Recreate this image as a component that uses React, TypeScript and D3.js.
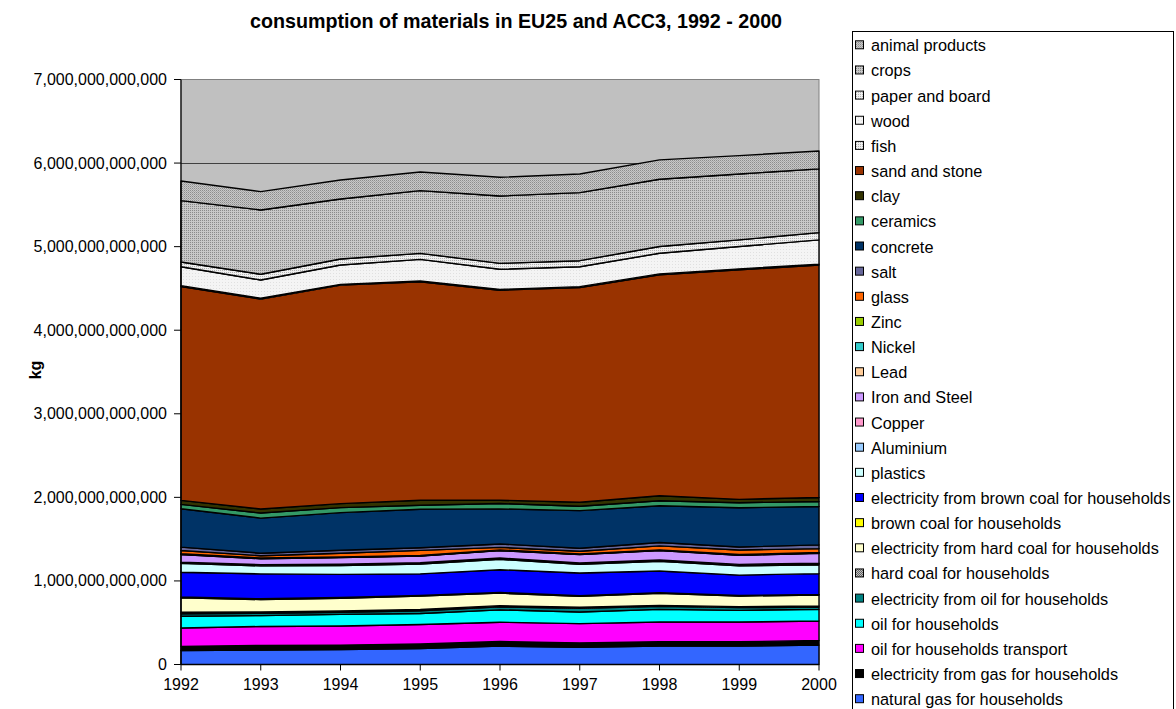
import React from "react";
import * as d3 from "d3";

// values in billions of kg (1e9 kg), years 1992..2000
const years = [1992, 1993, 1994, 1995, 1996, 1997, 1998, 1999, 2000];
const yTicks = [0, 1000, 2000, 3000, 4000, 5000, 6000, 7000];

const naturalGas = [167, 172, 180, 190, 220, 207, 220, 220, 232];
const elecGas = [50, 56, 52, 56, 56, 52, 52, 52, 56];
const oilTransport = [220, 227, 228, 232, 230, 230, 236, 236, 232];
const oilHouseholds = [140, 130, 140, 132, 148, 140, 152, 140, 140];
const elecOil = [30, 27, 24, 33, 35, 42, 35, 32, 28];
const hardCoal = [18, 17, 16, 15, 15, 14, 13, 12, 12];
const elecHardCoal = [172, 148, 152, 160, 150, 130, 144, 128, 132];
const brownCoal = [10, 9, 9, 8, 8, 7, 7, 6, 6];
const elecBrownCoal = [297, 298, 278, 259, 272, 273, 260, 244, 249];
const plastics = [106, 96, 105, 117, 124, 104, 115, 111, 107];
const aluminium = [9, 9, 10, 10, 10, 10, 11, 11, 11];
const copper = [5, 5, 5, 5, 6, 6, 6, 6, 6];
const ironSteel = [92, 72, 80, 80, 88, 100, 112, 108, 120];
const lead = [4, 4, 3, 3, 3, 3, 3, 3, 3];
const nickel = [2, 2, 2, 2, 2, 2, 2, 3, 3];
const zinc = [3, 3, 3, 4, 4, 4, 4, 4, 4];
const glass = [39, 27, 44, 59, 31, 31, 47, 54, 46];
const salt = [40, 30, 36, 32, 40, 36, 40, 36, 44];
const concrete = [460, 420, 450, 460, 420, 450, 440, 470, 460];
const ceramics = [52, 60, 60, 48, 64, 52, 60, 60, 60];
const clay = [48, 48, 48, 60, 40, 48, 60, 40, 48];
const sandStone = [2559, 2512, 2614, 2614, 2513, 2570, 2644, 2747, 2780];
const fish = [10, 10, 10, 10, 10, 10, 11, 11, 11];
const wood = [227, 219, 231, 259, 240, 239, 247, 267, 291];
const paperBoard = [56, 68, 72, 72, 71, 72, 80, 80, 87];
const crops = [734, 770, 718, 750, 806, 814, 806, 789, 762];
const animalProducts = [235, 219, 227, 223, 224, 223, 231, 219, 215];

// stacking order bottom -> top
const seriesNames = [
  "natural gas for households",
  "electricity from gas for households",
  "oil for households transport",
  "oil for households",
  "electricity from oil for households",
  "hard coal for households",
  "electricity from hard coal for households",
  "brown coal for households",
  "electricity from brown coal for households",
  "plastics",
  "Aluminium",
  "Copper",
  "Iron and Steel",
  "Lead",
  "Nickel",
  "Zinc",
  "glass",
  "salt",
  "concrete",
  "ceramics",
  "clay",
  "sand and stone",
  "fish",
  "wood",
  "paper and board",
  "crops",
  "animal products",
];
const seriesValues = [
  naturalGas, elecGas, oilTransport, oilHouseholds, elecOil, hardCoal,
  elecHardCoal, brownCoal, elecBrownCoal, plastics, aluminium, copper,
  ironSteel, lead, nickel, zinc, glass, salt, concrete, ceramics, clay,
  sandStone, fish, wood, paperBoard, crops, animalProducts,
];

const fills: Record<string, string> = {
  "natural gas for households": "#3366FF",
  "electricity from gas for households": "#000000",
  "oil for households transport": "#FF00FF",
  "oil for households": "#00FFFF",
  "electricity from oil for households": "#008080",
  "hard coal for households": "url(#pat-hardcoal)",
  "electricity from hard coal for households": "#FFFFCC",
  "brown coal for households": "#FFFF00",
  "electricity from brown coal for households": "#0000FF",
  plastics: "#CCFFFF",
  Aluminium: "#99CCFF",
  Copper: "#FF99CC",
  "Iron and Steel": "#CC99FF",
  Lead: "#FFCC99",
  Nickel: "#33CCCC",
  Zinc: "#99CC00",
  glass: "#FF6600",
  salt: "#666699",
  concrete: "#003366",
  ceramics: "#339966",
  clay: "#333300",
  "sand and stone": "#993300",
  fish: "url(#pat-fish)",
  wood: "url(#pat-wood)",
  "paper and board": "url(#pat-paper)",
  crops: "url(#pat-crops)",
  "animal products": "url(#pat-animal)",
};

const FONT = "'Liberation Sans', Arial, sans-serif";

export default function App() {
  const W = 1176, H = 709;
  const plot = { left: 181, right: 819, top: 79.5, bottom: 664.5 };

  const rows = years.map((yr, i) => {
    const r: Record<string, number> = { year: yr };
    seriesNames.forEach((n, k) => (r[n] = seriesValues[k][i] * 1e9));
    return r;
  });
  const stack = d3.stack<Record<string, number>>().keys(seriesNames);
  const layers = stack(rows);

  const x = d3.scaleLinear().domain([1992, 2000]).range([plot.left, plot.right]);
  const y = d3.scaleLinear().domain([0, 7e12]).range([plot.bottom, plot.top]);
  const area = d3
    .area<d3.SeriesPoint<Record<string, number>>>()
    .x((d) => x(d.data.year))
    .y0((d) => y(d[0]))
    .y1((d) => y(d[1]));

  const fmt = d3.format(",.0f");
  const legendTop = 45.3;
  const legendStep = 25.15;
  const legendItems = [...seriesNames].reverse();

  return (
    <svg
      width={W}
      height={H}
      style={{ position: "absolute", left: 0, top: 0, background: "#fff" }}
      fontFamily={FONT}
    >
      <defs>
        <pattern id="pat-animal" width="2" height="2" patternUnits="userSpaceOnUse">
          <rect width="2" height="2" fill="#C8C8C8" />
          <rect width="1" height="1" fill="#8C8C8C" />
          <rect x="1" y="1" width="1" height="1" fill="#A8A8A8" />
        </pattern>
        <pattern id="pat-crops" width="2" height="2" patternUnits="userSpaceOnUse">
          <rect width="2" height="2" fill="#C8C8C8" />
          <rect width="1" height="1" fill="#8A8A8A" />
        </pattern>
        <pattern id="pat-paper" width="2" height="2" patternUnits="userSpaceOnUse">
          <rect width="2" height="2" fill="#F0F0F0" />
          <rect width="1" height="1" fill="#B4B4B4" />
        </pattern>
        <pattern id="pat-wood" width="3" height="3" patternUnits="userSpaceOnUse">
          <rect width="3" height="3" fill="#F4F4F4" />
          <rect width="1" height="1" fill="#E0E0E0" />
        </pattern>
        <pattern id="pat-fish" width="2" height="2" patternUnits="userSpaceOnUse">
          <rect width="2" height="2" fill="#EEEEEE" />
          <rect width="1" height="1" fill="#B0B0B0" />
        </pattern>
        <pattern id="pat-hardcoal" width="2" height="2" patternUnits="userSpaceOnUse">
          <rect width="2" height="2" fill="#C0C0C0" />
          <rect width="1" height="1" fill="#606060" />
          <rect x="1" y="1" width="1" height="1" fill="#606060" />
        </pattern>
      </defs>

      {/* title */}
      <text
        x={516}
        y={21}
        textAnchor="middle"
        dominantBaseline="central"
        fontWeight="bold"
        fontSize={19.7}
      >
        consumption of materials in EU25 and ACC3, 1992 - 2000
      </text>

      {/* plot background */}
      <rect
        x={plot.left}
        y={plot.top}
        width={plot.right - plot.left}
        height={plot.bottom - plot.top}
        fill="#C0C0C0"
        stroke="#808080"
        strokeWidth={1}
      />
      {/* gridlines */}
      {yTicks.slice(1, -1).map((t) => (
        <line
          key={t}
          x1={plot.left}
          x2={plot.right}
          y1={Math.round(y(t * 1e9)) + 0.5}
          y2={Math.round(y(t * 1e9)) + 0.5}
          stroke="#404040"
          strokeWidth={1}
        />
      ))}

      {/* areas */}
      {layers.map((layer) => (
        <path
          key={layer.key}
          d={area(layer) || ""}
          fill={fills[layer.key]}
          stroke="#000"
          strokeWidth={1.4}
          strokeLinejoin="round"
        />
      ))}

      {/* axes */}
      <line x1={plot.left} x2={plot.left} y1={plot.top} y2={plot.bottom} stroke="#000" strokeWidth={1.2} />
      <line x1={plot.left} x2={plot.right} y1={plot.bottom} y2={plot.bottom} stroke="#000" strokeWidth={1.2} />
      {yTicks.map((t) => (
        <g key={t}>
          <line
            x1={plot.left - 7}
            x2={plot.left}
            y1={y(t * 1e9)}
            y2={y(t * 1e9)}
            stroke="#000"
            strokeWidth={1}
          />
          <text
            x={167}
            y={y(t * 1e9)}
            textAnchor="end"
            dominantBaseline="central"
            fontSize={16}
          >
            {fmt(t * 1e9)}
          </text>
        </g>
      ))}
      {years.map((yr) => (
        <g key={yr}>
          <line
            x1={x(yr)}
            x2={x(yr)}
            y1={plot.bottom}
            y2={plot.bottom + 6}
            stroke="#000"
            strokeWidth={1}
          />
          <text
            x={x(yr)}
            y={684}
            textAnchor="middle"
            dominantBaseline="central"
            fontSize={16}
          >
            {yr}
          </text>
        </g>
      ))}
      <text
        transform={`translate(35,370) rotate(-90)`}
        textAnchor="middle"
        dominantBaseline="central"
        fontWeight="bold"
        fontSize={16}
      >
        kg
      </text>

      {/* legend */}
      <rect x={852.5} y={31.5} width={321} height={700} fill="#fff" stroke="#000" strokeWidth={1} />
      {legendItems.map((name, i) => {
        const cy = legendTop + i * legendStep;
        return (
          <g key={name}>
            <rect
              x={855.5}
              y={cy - 4.5}
              width={8}
              height={8}
              fill={fills[name]}
              stroke="#000"
              strokeWidth={1}
            />
            <text x={871} y={cy} dominantBaseline="central" fontSize={16.3}>
              {name}
            </text>
          </g>
        );
      })}
    </svg>
  );
}
